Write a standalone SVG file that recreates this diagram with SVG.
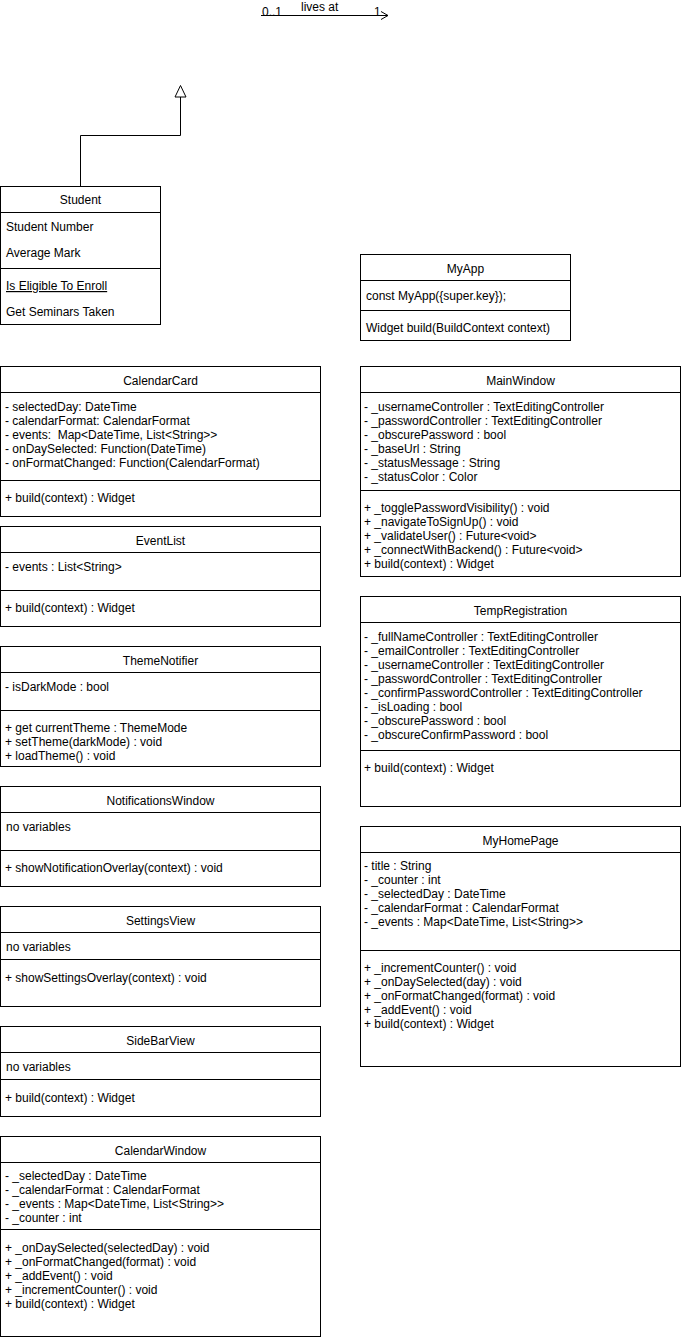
<svg xmlns="http://www.w3.org/2000/svg" width="682" height="1337" viewBox="0 0 682 1337">
<style>
.bg{fill:#fff}
.box{fill:#fff;stroke:#000;stroke-width:1}
.ln{stroke:#000;stroke-width:1;fill:none}
.t{font-family:"Liberation Sans",Arial,Helvetica,sans-serif;font-size:12px;fill:#000}
.c{text-anchor:middle}
.u{text-decoration:underline}
</style>
<defs>
<marker id="open" markerWidth="10" markerHeight="10" refX="8" refY="5" orient="auto" markerUnits="userSpaceOnUse">
<path d="M1,1 L8,5 L1,9" fill="none" stroke="#000" stroke-width="1"/>
</marker>
</defs>
<rect class="bg" x="0" y="0" width="682" height="1337"/>

<g id="connectors">
<line class="ln" x1="261" y1="15.5" x2="388" y2="15.5" marker-end="url(#open)"/>
<text class="t" x="262" y="16">0..1</text>
<text class="t" x="301" y="11">lives at</text>
<text class="t" x="374" y="16">1</text>
<polyline class="ln" points="80.5,186 80.5,135.5 180.5,135.5 180.5,97"/>
<polygon points="180.5,85.5 175,97 186,97" fill="#fff" stroke="#000" stroke-width="1"/>
</g>

<g id="Student">
<rect class="box" x="0.5" y="186.5" width="160" height="138"/>
<line class="ln" x1="0.5" y1="212.5" x2="160.5" y2="212.5"/>
<line class="ln" x1="0.5" y1="268.5" x2="160.5" y2="268.5"/>
<text class="t c" x="80.5" y="204">Student</text>
<text class="t" x="6" y="231">Student Number</text>
<text class="t" x="6" y="257">Average Mark</text>
<text class="t u" x="6" y="290">Is Eligible To Enroll</text>
<text class="t" x="6" y="316">Get Seminars Taken</text>
</g>

<g id="MyApp">
<rect class="box" x="360.5" y="254.5" width="210" height="86"/>
<line class="ln" x1="360.5" y1="280.5" x2="570.5" y2="280.5"/>
<line class="ln" x1="360.5" y1="310.5" x2="570.5" y2="310.5"/>
<text class="t c" x="465.5" y="273">MyApp</text>
<text class="t" x="366" y="300">const MyApp({super.key});</text>
<text class="t" x="366" y="332">Widget build(BuildContext context)</text>
</g>

<g id="CalendarCard">
<rect class="box" x="0.5" y="366.5" width="320" height="150"/>
<line class="ln" x1="0.5" y1="392.5" x2="320.5" y2="392.5"/>
<line class="ln" x1="0.5" y1="480.5" x2="320.5" y2="480.5"/>
<text class="t c" x="160.5" y="385">CalendarCard</text>
<text class="t" x="5" y="411">- selectedDay: DateTime</text>
<text class="t" x="5" y="425">- calendarFormat: CalendarFormat</text>
<text class="t" x="5" y="439" xml:space="preserve">- events:  Map&lt;DateTime, List&lt;String&gt;&gt;</text>
<text class="t" x="5" y="453">- onDaySelected: Function(DateTime)</text>
<text class="t" x="5" y="467">- onFormatChanged: Function(CalendarFormat)</text>
<text class="t" x="5" y="502">+ build(context) : Widget</text>
</g>

<g id="EventList">
<rect class="box" x="0.5" y="526.5" width="320" height="100"/>
<line class="ln" x1="0.5" y1="552.5" x2="320.5" y2="552.5"/>
<line class="ln" x1="0.5" y1="590.5" x2="320.5" y2="590.5"/>
<text class="t c" x="160.5" y="545">EventList</text>
<text class="t" x="5" y="571">- events : List&lt;String&gt;</text>
<text class="t" x="5" y="612">+ build(context) : Widget</text>
</g>

<g id="ThemeNotifier">
<rect class="box" x="0.5" y="646.5" width="320" height="120"/>
<line class="ln" x1="0.5" y1="672.5" x2="320.5" y2="672.5"/>
<line class="ln" x1="0.5" y1="710.5" x2="320.5" y2="710.5"/>
<text class="t c" x="160.5" y="665">ThemeNotifier</text>
<text class="t" x="5" y="691">- isDarkMode : bool</text>
<text class="t" x="5" y="732">+ get currentTheme : ThemeMode</text>
<text class="t" x="5" y="746">+ setTheme(darkMode) : void</text>
<text class="t" x="5" y="760">+ loadTheme() : void</text>
</g>

<g id="NotificationsWindow">
<rect class="box" x="0.5" y="786.5" width="320" height="100"/>
<line class="ln" x1="0.5" y1="812.5" x2="320.5" y2="812.5"/>
<line class="ln" x1="0.5" y1="850.5" x2="320.5" y2="850.5"/>
<text class="t c" x="160.5" y="805">NotificationsWindow</text>
<text class="t" x="6" y="831">no variables</text>
<text class="t" x="5" y="872">+ showNotificationOverlay(context) : void</text>
</g>

<g id="SettingsView">
<rect class="box" x="0.5" y="906.5" width="320" height="100"/>
<line class="ln" x1="0.5" y1="932.5" x2="320.5" y2="932.5"/>
<line class="ln" x1="0.5" y1="959.5" x2="320.5" y2="959.5"/>
<text class="t c" x="160.5" y="925">SettingsView</text>
<text class="t" x="6" y="951">no variables</text>
<text class="t" x="5" y="982">+ showSettingsOverlay(context) : void</text>
</g>

<g id="SideBarView">
<rect class="box" x="0.5" y="1026.5" width="320" height="90"/>
<line class="ln" x1="0.5" y1="1052.5" x2="320.5" y2="1052.5"/>
<line class="ln" x1="0.5" y1="1079.5" x2="320.5" y2="1079.5"/>
<text class="t c" x="160.5" y="1045">SideBarView</text>
<text class="t" x="6" y="1071">no variables</text>
<text class="t" x="5" y="1102">+ build(context) : Widget</text>
</g>

<g id="CalendarWindow">
<rect class="box" x="0.5" y="1136.5" width="320" height="200"/>
<line class="ln" x1="0.5" y1="1162.5" x2="320.5" y2="1162.5"/>
<line class="ln" x1="0.5" y1="1229.5" x2="320.5" y2="1229.5"/>
<text class="t c" x="160.5" y="1155">CalendarWindow</text>
<text class="t" x="5" y="1180">- _selectedDay : DateTime</text>
<text class="t" x="5" y="1194">- _calendarFormat : CalendarFormat</text>
<text class="t" x="5" y="1208">- _events : Map&lt;DateTime, List&lt;String&gt;&gt;</text>
<text class="t" x="5" y="1222">- _counter : int</text>
<text class="t" x="5" y="1252">+ _onDaySelected(selectedDay) : void</text>
<text class="t" x="5" y="1266">+ _onFormatChanged(format) : void</text>
<text class="t" x="5" y="1280">+ _addEvent() : void</text>
<text class="t" x="5" y="1294">+ _incrementCounter() : void</text>
<text class="t" x="5" y="1308">+ build(context) : Widget</text>
</g>

<g id="MainWindow">
<rect class="box" x="360.5" y="366.5" width="320" height="210"/>
<line class="ln" x1="360.5" y1="392.5" x2="680.5" y2="392.5"/>
<line class="ln" x1="360.5" y1="490.5" x2="680.5" y2="490.5"/>
<text class="t c" x="520.5" y="385">MainWindow</text>
<text class="t" x="364" y="411">- _usernameController : TextEditingController</text>
<text class="t" x="364" y="425">- _passwordController : TextEditingController</text>
<text class="t" x="364" y="439">- _obscurePassword : bool</text>
<text class="t" x="364" y="453">- _baseUrl : String</text>
<text class="t" x="364" y="467">- _statusMessage : String</text>
<text class="t" x="364" y="481">- _statusColor : Color</text>
<text class="t" x="364" y="512">+ _togglePasswordVisibility() : void</text>
<text class="t" x="364" y="526">+ _navigateToSignUp() : void</text>
<text class="t" x="364" y="540">+ _validateUser() : Future&lt;void&gt;</text>
<text class="t" x="364" y="554">+ _connectWithBackend() : Future&lt;void&gt;</text>
<text class="t" x="364" y="568">+ build(context) : Widget</text>
</g>

<g id="TempRegistration">
<rect class="box" x="360.5" y="596.5" width="320" height="210"/>
<line class="ln" x1="360.5" y1="622.5" x2="680.5" y2="622.5"/>
<line class="ln" x1="360.5" y1="750.5" x2="680.5" y2="750.5"/>
<text class="t c" x="520.5" y="615">TempRegistration</text>
<text class="t" x="364" y="641">- _fullNameController : TextEditingController</text>
<text class="t" x="364" y="655">- _emailController : TextEditingController</text>
<text class="t" x="364" y="669">- _usernameController : TextEditingController</text>
<text class="t" x="364" y="683">- _passwordController : TextEditingController</text>
<text class="t" x="364" y="697">- _confirmPasswordController : TextEditingController</text>
<text class="t" x="364" y="711">- _isLoading : bool</text>
<text class="t" x="364" y="725">- _obscurePassword : bool</text>
<text class="t" x="364" y="739">- _obscureConfirmPassword : bool</text>
<text class="t" x="364" y="772">+ build(context) : Widget</text>
</g>

<g id="MyHomePage">
<rect class="box" x="360.5" y="826.5" width="320" height="240"/>
<line class="ln" x1="360.5" y1="852.5" x2="680.5" y2="852.5"/>
<line class="ln" x1="360.5" y1="950.5" x2="680.5" y2="950.5"/>
<text class="t c" x="520.5" y="845">MyHomePage</text>
<text class="t" x="364" y="870">- title : String</text>
<text class="t" x="364" y="884">- _counter : int</text>
<text class="t" x="364" y="898">- _selectedDay : DateTime</text>
<text class="t" x="364" y="912">- _calendarFormat : CalendarFormat</text>
<text class="t" x="364" y="926">- _events : Map&lt;DateTime, List&lt;String&gt;&gt;</text>
<text class="t" x="364" y="972">+ _incrementCounter() : void</text>
<text class="t" x="364" y="986">+ _onDaySelected(day) : void</text>
<text class="t" x="364" y="1000">+ _onFormatChanged(format) : void</text>
<text class="t" x="364" y="1014">+ _addEvent() : void</text>
<text class="t" x="364" y="1028">+ build(context) : Widget</text>
</g>
</svg>
